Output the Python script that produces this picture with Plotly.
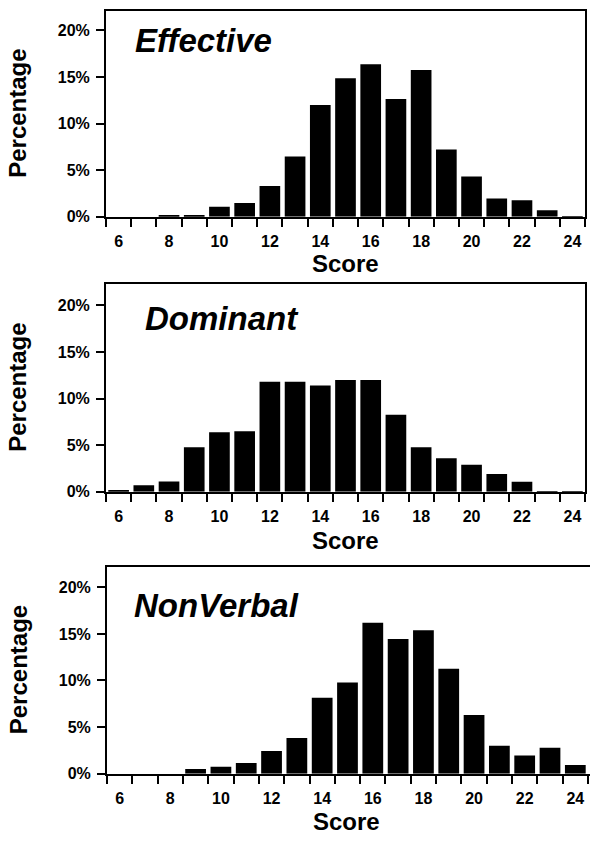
import plotly.graph_objects as go

scores = list(range(6, 25))
effective = [0, 0, 0.1, 0.1, 1.07, 1.46, 3.3, 6.46, 12.0, 14.86, 16.36, 12.64, 15.75, 7.2, 4.3, 1.96, 1.75, 0.7, 0.05]
dominant = [0.15, 0.68, 1.1, 4.77, 6.37, 6.48, 11.8, 11.8, 11.39, 12.0, 12.0, 8.26, 4.77, 3.6, 2.9, 1.9, 1.07, 0.08, 0.08]
nonverbal = [0, 0, 0, 0.5, 0.75, 1.14, 2.43, 3.82, 8.14, 9.79, 16.2, 14.46, 15.4, 11.25, 6.29, 3.0, 1.96, 2.79, 0.93]
panel_names = ["Effective", "Dominant", "NonVerbal"]
x_labels = [6, 8, 10, 12, 14, 16, 18, 20, 22, 24]
y_ticks = [0, 5, 10, 15, 20]
bin_edges = [s - 0.5 for s in scores] + [24.5]

W, H = 590, 841
FONT = "Liberation Sans, Arial, Helvetica, sans-serif"

# panel frames in pixels: (left, right, top, bottom)
frames = [(106, 585, 11, 219), (106, 585, 287, 497), (107, 592, 573, 782)]
yranges = [22.1, 22.3, 22.2]
xmax = [24.5, 24.5, 24.58]
series = [effective, dominant, nonverbal]
title_pos = [(133, 41), (143, 322), (132, 612)]
score_y = [266, 546, 830]

fig = go.Figure()
for i, (vals, (l, r, t, b)) in enumerate(zip(series, frames)):
    xa = "x" if i == 0 else f"x{i+1}"
    ya = "y" if i == 0 else f"y{i+1}"
    fig.add_trace(go.Bar(x=scores, y=vals, width=0.82, marker=dict(color="black", line=dict(width=0)),
                         xaxis=xa, yaxis=ya, showlegend=False))
    xkey = "xaxis" if i == 0 else f"xaxis{i+1}"
    ykey = "yaxis" if i == 0 else f"yaxis{i+1}"
    last = (i == 2)
    fig.update_layout({
        xkey: dict(domain=[l / W, min(r, W) / W], range=[5.5, xmax[i]], anchor=ya,
                   tickmode="array", tickvals=x_labels, ticktext=[str(v) for v in x_labels],
                   ticks="", showgrid=False, zeroline=False, ticklabelstandoff=9,
                   showline=True, linecolor="black", linewidth=2, mirror=True,
                   tickfont=dict(family=FONT, size=16, color="black", weight="bold"),
                   minor=dict(tickmode="array", tickvals=bin_edges, ticks="outside",
                              ticklen=8, tickwidth=2, tickcolor="black", showgrid=False)),
        ykey: dict(domain=[1 - b / H, 1 - t / H], range=[0, yranges[i]], anchor=xa,
                   tickmode="array", tickvals=y_ticks, ticktext=[f"{v}%" for v in y_ticks],
                   ticks="outside", ticklen=8, tickwidth=2, tickcolor="black",
                   showgrid=False, zeroline=False, ticklabelstandoff=3,
                   showline=True, linecolor="black", linewidth=2, mirror=(not last),
                   tickfont=dict(family=FONT, size=16, color="black", weight="bold")),
    })
    # axis titles
    fig.add_annotation(x=18 / W, y=1 - ((t + b) / 2) / H, xref="paper", yref="paper",
                       xanchor="center", yanchor="middle",
                       text="<b>Percentage</b>", textangle=-90, showarrow=False,
                       font=dict(family=FONT, size=24, color="black"))
    fig.add_annotation(x=((l + min(r, 585)) / 2) / W, y=1 - score_y[i] / H, xref="paper", yref="paper",
                       xanchor="center", yanchor="middle",
                       text="<b>Score</b>", showarrow=False,
                       font=dict(family=FONT, size=24, color="black"))
    tx, ty = title_pos[i]
    fig.add_annotation(x=tx / W, y=1 - ty / H, xref="paper", yref="paper", xanchor="left", yanchor="middle",
                       text=f"<b><i>{panel_names[i]}</i></b>", showarrow=False,
                       font=dict(family=FONT, size=33, color="black"))

fig.update_layout(width=W, height=H, margin=dict(l=0, r=0, t=0, b=0),
                  paper_bgcolor="white", plot_bgcolor="white", bargap=0.18)
fig.write_html("out.html", config={"displayModeBar": False},
               post_script="document.body.style.margin='0px';document.body.style.overflow='hidden';")
